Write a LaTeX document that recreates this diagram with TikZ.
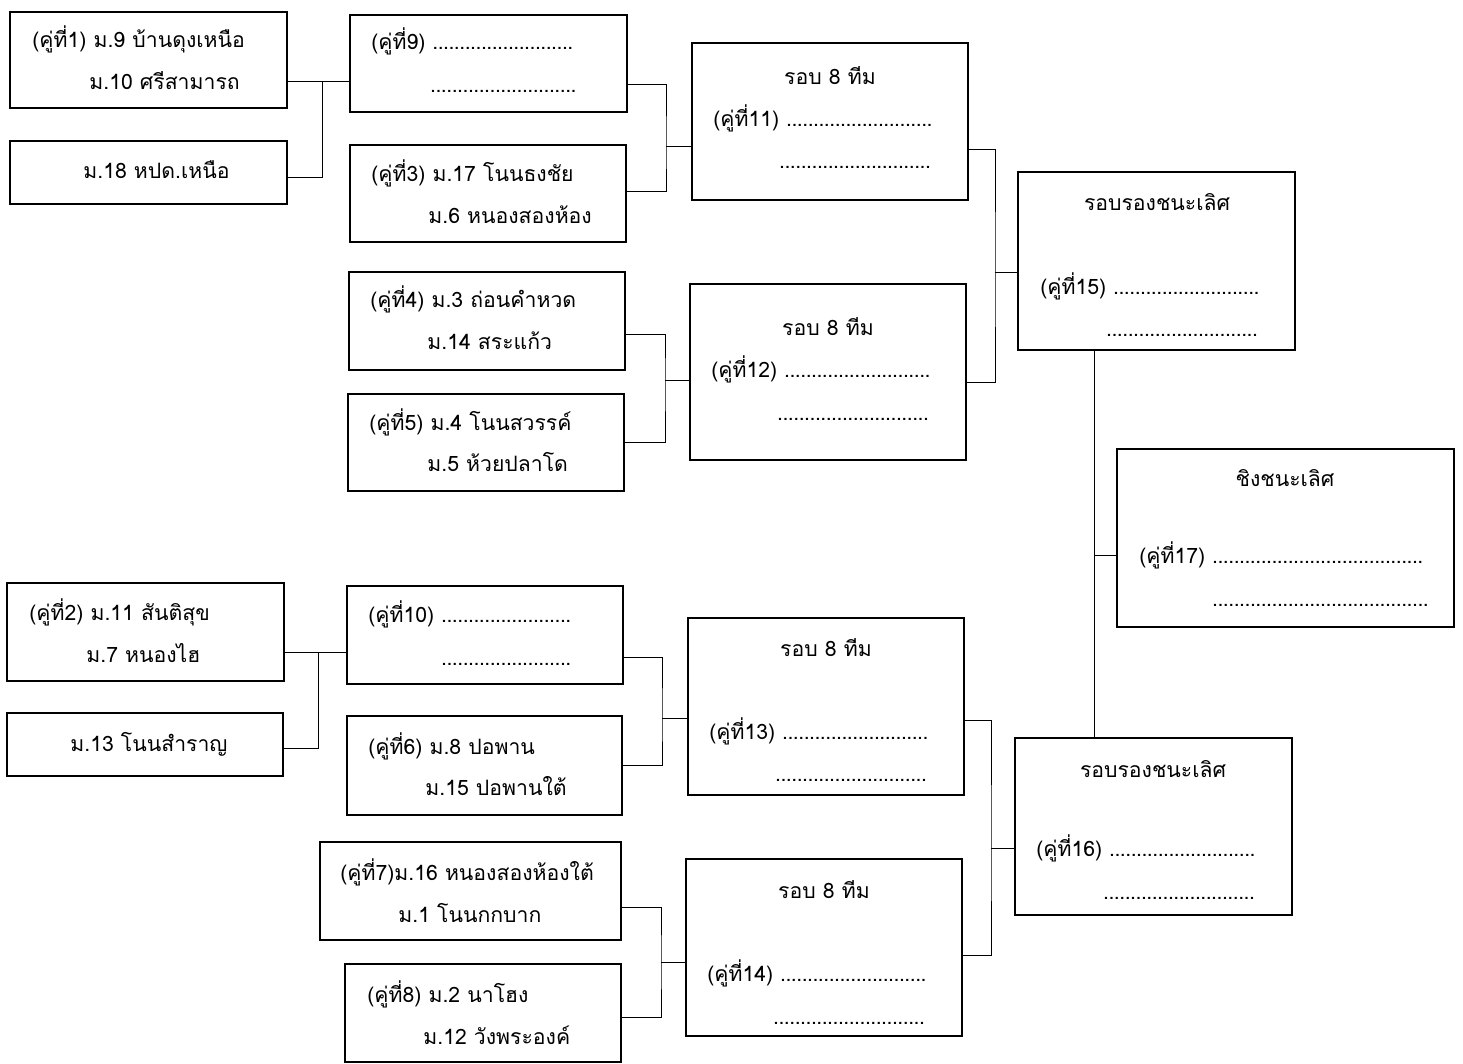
\documentclass[tikz,border=0pt]{standalone}
\usepackage{fontspec}
\setmainfont{Loma}[Script=Thai]
\usepackage{tikz}
\usetikzlibrary{positioning,calc,fit}

% row of dots of a given width
\newcommand\dotrow[1]{\leavevmode\hbox to #1{\leaders\hbox to 2.7pt{\hss.\hss}\hfill}}

\begin{document}
\begin{tikzpicture}[x=0.5pt, y=-0.5pt,
    box/.style={draw, line width=1pt, inner sep=0pt},
    txt/.style={anchor=base west, inner sep=0pt, font=\fontsize{10.6}{13}\selectfont},
    ttl/.style={anchor=base, inner sep=0pt, font=\fontsize{10.6}{13}\selectfont},
    link/.style={line width=0.5pt}]
    \useasboundingbox (0,0) rectangle (1463,1064);

    % first round, upper half
    \node [box, fit={(10,12) (287,108)}] (p1) {};
    \node [txt] (p1a) at (32,48) {(คู่ที่1) ม.9 บ้านดุงเหนือ};
    \node [txt] (p1b) at (89,90) {ม.10 ศรีสามารถ};
    \node [box, fit={(10,141) (287,204)}] (m18) {};
    \node [txt] (m18a) at (83,179) {ม.18 หปด.เหนือ};

    \node [box, fit={(350,15) (627,112)}] (p9) {};
    \node [txt] (p9a) at (371,50) {(คู่ที่9) \dotrow{71pt}};
    \node [txt] (p9b) at (430,93) {\dotrow{73pt}};
    \node [box, fit={(350,145) (626,242)}] (p3) {};
    \node [txt] (p3a) at (371,182) {(คู่ที่3) ม.17 โนนธงชัย};
    \node [txt] (p3b) at (428,224) {ม.6 หนองสองห้อง};
    \node [box, fit={(349,272) (625,370)}] (p4) {};
    \node [txt] (p4a) at (370,308) {(คู่ที่4) ม.3 ถ่อนคำหวด};
    \node [txt] (p4b) at (427,350) {ม.14 สระแก้ว};
    \node [box, fit={(348,394) (624,491)}] (p5) {};
    \node [txt] (p5a) at (369,430) {(คู่ที่5) ม.4 โนนสวรรค์};
    \node [txt] (p5b) at (427,472) {ม.5 ห้วยปลาโด};

    % first round, lower half
    \node [box, fit={(7,583) (284,681)}] (p2) {};
    \node [txt] (p2a) at (29,620) {(คู่ที่2) ม.11 สันติสุข};
    \node [txt] (p2b) at (86,662) {ม.7 หนองไฮ};
    \node [box, fit={(7,713) (283,776)}] (m13) {};
    \node [txt] (m13a) at (70,751) {ม.13 โนนสำราญ};

    \node [box, fit={(347,586) (623,684)}] (p10) {};
    \node [txt] (p10a) at (368,622) {(คู่ที่10) \dotrow{65pt}};
    \node [txt] (p10b) at (441,665) {\dotrow{65pt}};
    \node [box, fit={(347,716) (622,815)}] (p6) {};
    \node [txt] (p6a) at (368,754) {(คู่ที่6) ม.8 ปอพาน};
    \node [txt] (p6b) at (425,795) {ม.15 ปอพานใต้};
    \node [box, fit={(320,842) (621,940)}] (p7) {};
    \node [txt] (p7a) at (340,880) {(คู่ที่7)ม.16 หนองสองห้องใต้};
    \node [txt] (p7b) at (398,922) {ม.1 โนนกกบาก};
    \node [box, fit={(345,964) (621,1062)}] (p8) {};
    \node [txt] (p8a) at (367,1002) {(คู่ที่8) ม.2 นาโฮง};
    \node [txt] (p8b) at (423,1044) {ม.12 วังพระองค์};

    % last eight
    \node [box, fit={(692,43) (968,200)}] (r11) {};
    \node [ttl] (r11t) at (830,85) {รอบ 8 ทีม};
    \node [txt] (r11a) at (713,127) {(คู่ที่11) \dotrow{73pt}};
    \node [txt] (r11b) at (779,169) {\dotrow{78pt}};
    \node [box, fit={(690,284) (966,460)}] (r12) {};
    \node [ttl] (r12t) at (828,336) {รอบ 8 ทีม};
    \node [txt] (r12a) at (711,378) {(คู่ที่12) \dotrow{73pt}};
    \node [txt] (r12b) at (777,421) {\dotrow{78pt}};
    \node [box, fit={(688,618) (964,795)}] (r13) {};
    \node [ttl] (r13t) at (826,656) {รอบ 8 ทีม};
    \node [txt] (r13a) at (709,739) {(คู่ที่13) \dotrow{73pt}};
    \node [txt] (r13b) at (775,781) {\dotrow{78pt}};
    \node [box, fit={(686,859) (962,1036)}] (r14) {};
    \node [ttl] (r14t) at (824,898) {รอบ 8 ทีม};
    \node [txt] (r14a) at (707,981) {(คู่ที่14) \dotrow{73pt}};
    \node [txt] (r14b) at (773,1024) {\dotrow{78pt}};

    % semi finals and final
    \node [box, fit={(1018,172) (1295,350)}] (r15) {};
    \node [ttl] (r15t) at (1157,211) {รอบรองชนะเลิศ};
    \node [txt] (r15a) at (1040,295) {(คู่ที่15) \dotrow{73pt}};
    \node [txt] (r15b) at (1106,337) {\dotrow{78pt}};
    \node [box, fit={(1015,738) (1292,915)}] (r16) {};
    \node [ttl] (r16t) at (1153,777) {รอบรองชนะเลิศ};
    \node [txt] (r16a) at (1036,856) {(คู่ที่16) \dotrow{73pt}};
    \node [txt] (r16b) at (1103,899) {\dotrow{78pt}};
    \node [box, fit={(1117,449) (1454,627)}] (fin) {};
    \node [ttl] (fint) at (1285,487) {ชิงชนะเลิศ};
    \node [txt] (fina) at (1139,563) {(คู่ที่17) \dotrow{106pt}};
    \node [txt] (finb) at (1212,606) {\dotrow{108pt}};

    % junctions
    \coordinate (k0) at (322,82);
    \coordinate (k1) at (666,147);
    \coordinate (k2) at (665,381);
    \coordinate (k3) at (995,273);
    \coordinate (k4) at (318,652);
    \coordinate (k5) at (662,718);
    \coordinate (k6) at (661,962);
    \coordinate (k7) at (991,848);
    \coordinate (k8) at (1094,555);

    \draw [link] (p1.east |- k0) -- (p9.west |- k0);
    \draw [link] (m18.east |- 0,178) -| (k0);
    \draw [link] (p9.east |- 0,85) -| (k1) |- (p3.east |- 0,192);
    \draw [link] (k1) -- (r11.west |- k1);
    \draw [link] (p4.east |- 0,335) -| (k2) |- (p5.east |- 0,443);
    \draw [link] (k2) -- (r12.west |- k2);
    \draw [link] (r11.east |- 0,150) -| (k3) |- (r12.east |- 0,383);
    \draw [link] (k3) -- (r15.west |- k3);
    \draw [link] (p2.east |- k4) -- (p10.west |- k4);
    \draw [link] (m13.east |- 0,748) -| (k4);
    \draw [link] (p10.east |- 0,657) -| (k5) |- (p6.east |- 0,765);
    \draw [link] (k5) -- (r13.west |- k5);
    \draw [link] (p7.east |- 0,907) -| (k6) |- (p8.east |- 0,1017);
    \draw [link] (k6) -- (r14.west |- k6);
    \draw [link] (r13.east |- 0,720) -| (k7) |- (r14.east |- 0,955);
    \draw [link] (k7) -- (r16.west |- k7);
    \draw [link] (r15.south -| k8) -- (r16.north -| k8);
    \draw [link] (k8) -- (fin.west |- k8);
\end{tikzpicture}
\end{document}
